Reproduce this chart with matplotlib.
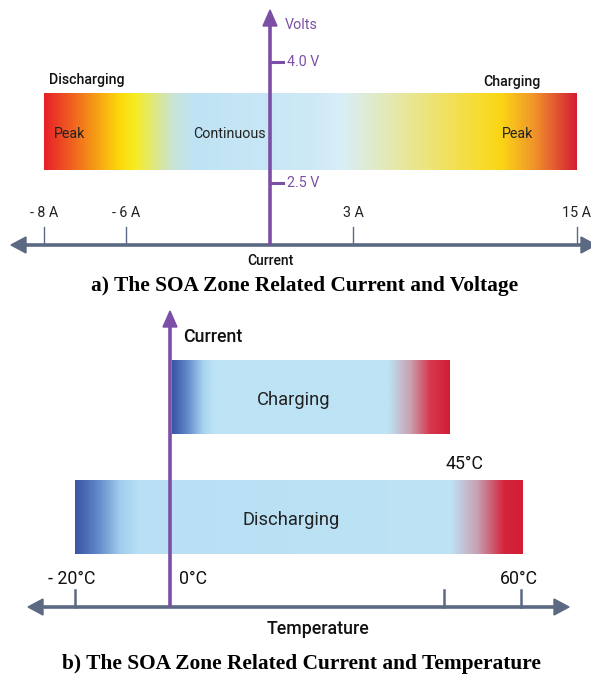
import numpy as np
import matplotlib
matplotlib.use('Agg')
import matplotlib.pyplot as plt
from matplotlib.colors import LinearSegmentedColormap
from matplotlib.patches import Polygon

# ---- data: panel a (current / voltage) ----
current_values = [-8, -6, 3, 15]
current_labels = ['- 8 A', '- 6 A', '3 A', '15 A']
voltage_values = [4.0, 2.5]
voltage_labels = ['4.0 V', '2.5 V']
# gradient stops along the voltage band (fraction, colour)
soa_v_stops = [(0.00, '#e8202a'), (0.07, '#f37a1c'), (0.14, '#fbd90a'),
               (0.17, '#f7ec22'), (0.24, '#c9e4d6'), (0.28, '#bfe3f4'),
               (0.50, '#cde9f6'), (0.56, '#d9eef8'), (0.68, '#e8e79a'),
               (0.82, '#f8dc2e'), (0.86, '#fbd514'), (0.92, '#f0962a'),
               (1.00, '#d41f33')]

# ---- data: panel b (current / temperature) ----
temp_values = [-20, 0, 45, 60]
temp_labels = ['- 20°C', '0°C', '45°C', '60°C']
charge_stops = [(0.00, '#3a55a5'), (0.05, '#5f85c8'), (0.11, '#a6d2ef'),
                (0.15, '#bde3f5'), (0.78, '#bde3f5'), (0.86, '#c9a0b0'),
                (0.93, '#d6384e'), (1.00, '#d21e35')]
discharge_stops = [(0.00, '#3a55a5'), (0.05, '#6289ca'), (0.10, '#a2cdee'),
                   (0.14, '#b8dff4'), (0.84, '#bde3f5'), (0.90, '#c6a0b2'),
                   (0.96, '#d3253c'), (1.00, '#d21e35')]

# ---- layout (figure pixels) ----
W, H = 591, 675
PURPLE = '#7b4fa6'
GREY = '#5b6a82'

fig = plt.figure(figsize=(W / 100, H / 100), dpi=100)
ax = fig.add_axes([0, 0, 1, 1])
ax.set_xlim(0, W)
ax.set_ylim(H, 0)
ax.axis('off')

font = ['Roboto', 'DejaVu Sans']


def gradient_bar(x0, x1, y0, y1, stops):
    cmap = LinearSegmentedColormap.from_list('g', stops)
    grad = np.linspace(0, 1, 512).reshape(1, -1)
    ax.imshow(grad, cmap=cmap, aspect='auto', extent=(x0, x1, y1, y0),
              interpolation='bilinear', zorder=1)


def h_axis(y, x_left, x_right, heads):
    ax.plot([x_left + 8, x_right - 8], [y, y], color=GREY, lw=2.6,
            solid_capstyle='butt', zorder=3)
    if 'left' in heads:
        ax.add_patch(Polygon([(x_left, y), (x_left + 15, y - 8), (x_left + 15, y + 8)],
                             closed=True, color=GREY, zorder=3))
    if 'right' in heads:
        ax.add_patch(Polygon([(x_right, y), (x_right - 15, y - 8), (x_right - 15, y + 8)],
                             closed=True, color=GREY, zorder=3))


def v_axis(x, y_bottom, y_top):
    ax.plot([x, x], [y_bottom, y_top + 10], color=PURPLE, lw=2.6,
            solid_capstyle='butt', zorder=4)
    ax.add_patch(Polygon([(x, y_top), (x - 7, y_top + 16), (x + 7, y_top + 16)],
                         closed=True, color=PURPLE, zorder=4))


# ================= panel a =================
cur_x = dict(zip(current_values, [44, 126, 353, 577]))
volt_y = dict(zip(voltage_values, [62, 183]))
axis_y_a = 245

gradient_bar(44, 577, 93, 170, soa_v_stops)
h_axis(axis_y_a, 11, 596, ['left', 'right'])
v_axis(270, axis_y_a, 10)

for v, lab in zip(current_values, current_labels):
    x = cur_x[v]
    ax.plot([x, x], [axis_y_a - 18, axis_y_a], color=GREY, lw=1.0, zorder=2)
    ax.text(x, axis_y_a - 25, lab, ha='center', va='bottom', fontsize=10.3,
            family=font, color='#222222')

for v, lab in zip(voltage_values, voltage_labels):
    y = volt_y[v]
    ax.plot([270, 283], [y, y], color=PURPLE, lw=2.2, zorder=4)
    ax.text(287, y, lab, ha='left', va='center', fontsize=10.3,
            family=font, color=PURPLE)
ax.text(285, 25, 'Volts', ha='left', va='center', fontsize=10.3,
        family=font, color=PURPLE)

ax.text(49, 80, 'Discharging', ha='left', va='center', fontsize=10.2,
        family=font, fontweight='medium', color='#111111')
ax.text(540, 82, 'Charging', ha='right', va='center', fontsize=10.2,
        family=font, fontweight='medium', color='#111111')
ax.text(54, 134, 'Peak', ha='left', va='center', fontsize=10.3, family=font, color='#222222')
ax.text(193, 134, 'Continuous', ha='left', va='center', fontsize=10.3, family=font, color='#222222')
ax.text(502, 134, 'Peak', ha='left', va='center', fontsize=10.3, family=font, color='#222222')
ax.text(270, 261, 'Current', ha='center', va='center', fontsize=10,
        family=font, fontweight='medium', color='#111111')

ax.text(305, 286, 'a) The SOA Zone Related Current and Voltage', ha='center',
        va='center', fontsize=15.4, fontweight='bold', family='Liberation Serif')

# ================= panel b =================
temp_x = dict(zip(temp_values, [75, 170, 444, 521]))
axis_y_b = 607

gradient_bar(172, 450, 360, 434, charge_stops)
gradient_bar(75, 523, 480, 554, discharge_stops)
h_axis(axis_y_b, 28, 569, ['left', 'right'])
v_axis(170, axis_y_b, 311)

for v, lab in zip(temp_values, temp_labels):
    x = temp_x[v]
    if v != 0:
        ax.plot([x, x], [axis_y_b - 17, axis_y_b], color=GREY, lw=1.8, zorder=2)

ax.text(48, 579, temp_labels[0], ha='left', va='center', fontsize=12.8, family=font, color='#111111')
ax.text(179, 579, temp_labels[1], ha='left', va='center', fontsize=12.8, family=font, color='#111111')
ax.text(446, 464, temp_labels[2], ha='left', va='center', fontsize=12.8, family=font, color='#111111')
ax.text(538, 579, temp_labels[3], ha='right', va='center', fontsize=12.8, family=font, color='#111111')

ax.text(183, 337, 'Current', ha='left', va='center', fontsize=12.8,
        family=font, fontweight='medium', color='#111111')
ax.text(294, 400, 'Charging', ha='center', va='center', fontsize=13.2,
        family=font, color='#222222')
ax.text(291, 520, 'Discharging', ha='center', va='center', fontsize=13.2,
        family=font, color='#222222')
ax.text(318, 629, 'Temperature', ha='center', va='center', fontsize=12.8,
        family=font, fontweight='medium', color='#111111')

ax.text(301, 664, 'b) The SOA Zone Related Current and Temperature', ha='center',
        va='center', fontsize=15.4, fontweight='bold', family='Liberation Serif')

fig.savefig('out.png', dpi=100)
